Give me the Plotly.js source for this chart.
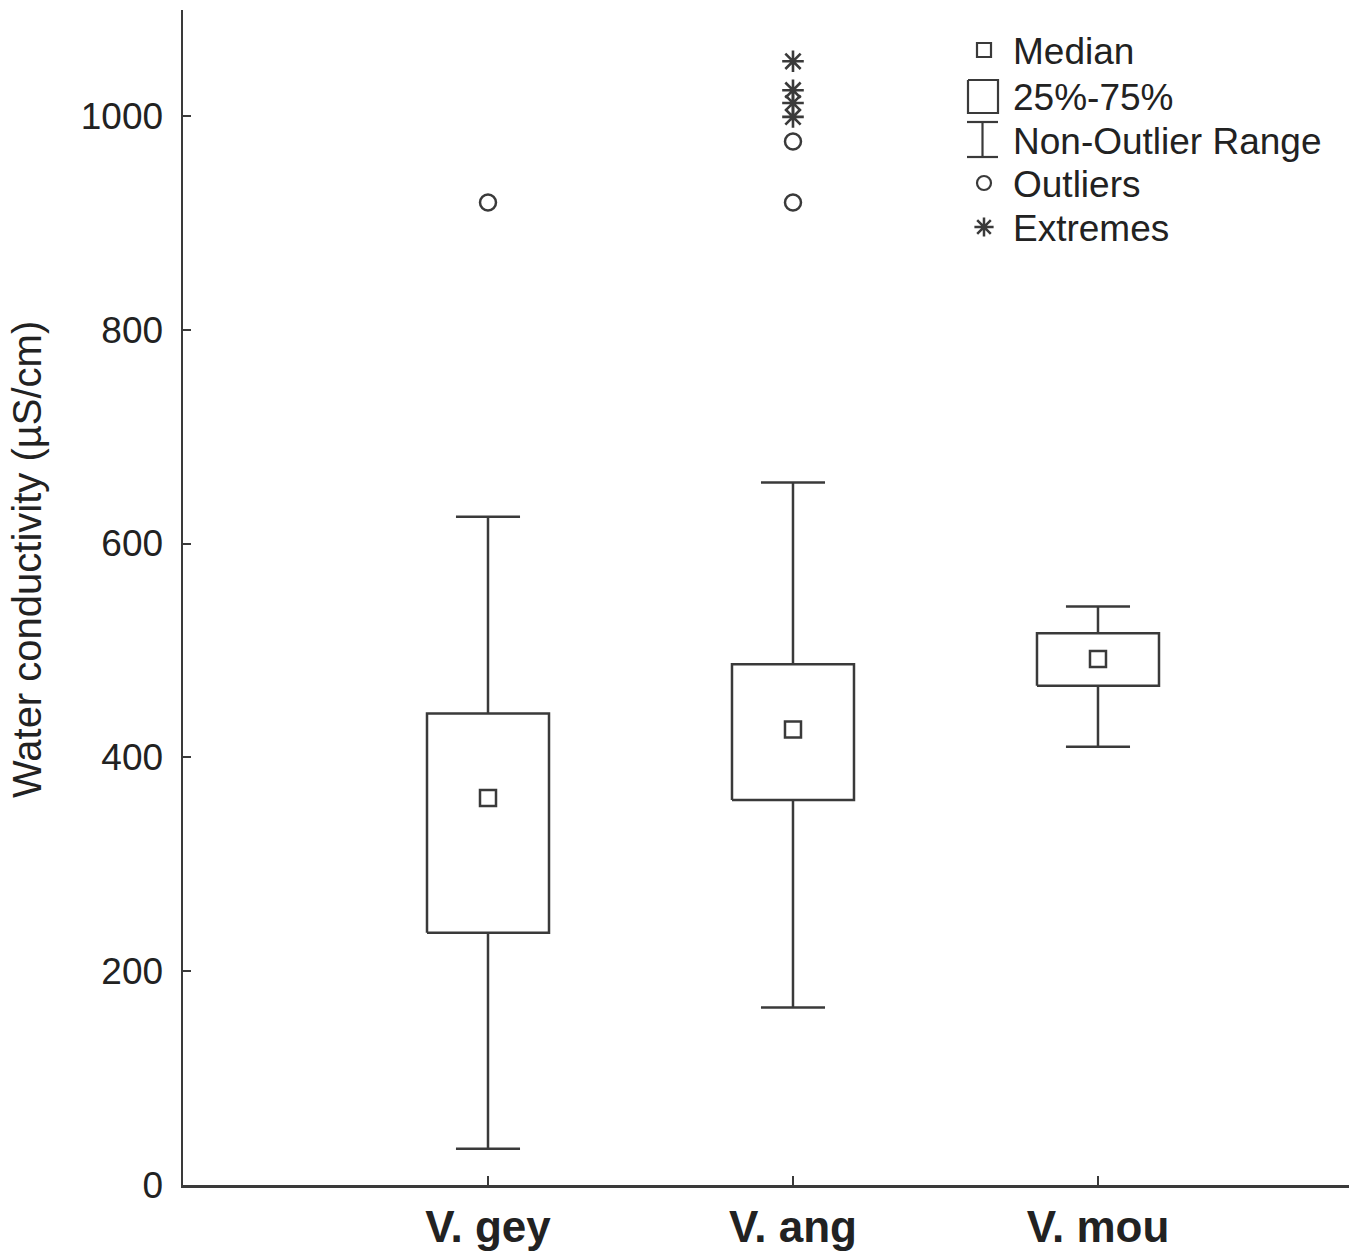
<!DOCTYPE html>
<html>
<head>
<meta charset="utf-8">
<script src="https://cdn.plot.ly/plotly-3.0.1.min.js"></script>
<style>html,body{margin:0;padding:0;background:#fff}#chart{width:1349px;height:1256px}</style>
</head>
<body>
<div id="chart"></div>
<script>
// ---- data ----
const categories = ["V. gey", "V. ang", "V. mou"];
const q1Values = [236, 360, 467];
const medianValues = [362, 426, 492];
const q3Values = [441, 487, 516];
const lowerWhisker = [34, 166, 410];
const upperWhisker = [625, 657, 541];
const outlierCategory = ["V. gey", "V. ang", "V. ang"];
const outlierValues = [919, 919, 976];
const extremeCategory = ["V. ang", "V. ang", "V. ang", "V. ang"];
const extremeValues = [999, 1012, 1024, 1051];
const yTickValues = [0, 200, 400, 600, 800, 1000];
const legendLabels = ["Median", "25%-75%", "Non-Outlier Range", "Outliers", "Extremes"];
const yTitle = "Water conductivity (µS/cm)";

// ---- styles ----
const LC = "#3a3a3a";
const LW = 2.5;
const FONT = "Liberation Sans, Arial, sans-serif";
const boxHalf = 0.2, capHalf = 0.105;

const pos = c => categories.indexOf(c) + 1;

// box rectangles
const bx = [], by = [];
categories.forEach((c, i) => {
  const x = i + 1;
  bx.push(x - boxHalf, x + boxHalf, x + boxHalf, x - boxHalf, x - boxHalf, null);
  by.push(q1Values[i], q1Values[i], q3Values[i], q3Values[i], q1Values[i], null);
});
// whiskers + caps
const wx = [], wy = [];
categories.forEach((c, i) => {
  const x = i + 1;
  wx.push(x, x, null, x, x, null);
  wy.push(q3Values[i], upperWhisker[i], null, q1Values[i], lowerWhisker[i], null);
  wx.push(x - capHalf, x + capHalf, null, x - capHalf, x + capHalf, null);
  wy.push(upperWhisker[i], upperWhisker[i], null, lowerWhisker[i], lowerWhisker[i], null);
});

const traces = [
  {type: "scatter", mode: "lines", x: wx, y: wy, line: {color: LC, width: LW}, hoverinfo: "skip", showlegend: false},
  {type: "scatter", mode: "lines", x: bx, y: by, line: {color: LC, width: LW}, fill: "none", hoverinfo: "skip", showlegend: false},
  {type: "scatter", mode: "markers", x: categories.map((c, i) => i + 1), y: medianValues,
   marker: {symbol: "square-open", size: 16, color: LC, line: {width: LW, color: LC}}, showlegend: false},
  {type: "scatter", mode: "markers", x: outlierCategory.map(pos), y: outlierValues,
   marker: {symbol: "circle-open", size: 16, color: LC, line: {width: LW, color: LC}}, showlegend: false},
  {type: "scatter", mode: "markers", x: extremeCategory.map(pos), y: extremeValues,
   marker: {symbol: "asterisk-open", size: 18, color: LC, line: {width: 2.6, color: LC}}, showlegend: false},
];

// ---- manual legend on a pixel-space overlay axis ----
const legX = 983, legTextX = 1011;
const legY = [50, 96, 140, 183, 227];
traces.push({type: "scatter", mode: "markers", xaxis: "x2", yaxis: "y2", x: [legX + 1], y: [legY[0]],
  marker: {symbol: "square-open", size: 14, color: LC, line: {width: 2.2, color: LC}}, hoverinfo: "skip", showlegend: false});
traces.push({type: "scatter", mode: "lines", xaxis: "x2", yaxis: "y2",
  x: [968, 998, 998, 968, 968], y: [80, 80, 113, 113, 80],
  line: {color: LC, width: 2.2}, hoverinfo: "skip", showlegend: false});
traces.push({type: "scatter", mode: "lines", xaxis: "x2", yaxis: "y2",
  x: [967, 998, null, 982.5, 982.5, null, 967, 998], y: [122, 122, null, 122, 157, null, 157, 157],
  line: {color: LC, width: 2.2}, hoverinfo: "skip", showlegend: false});
traces.push({type: "scatter", mode: "markers", xaxis: "x2", yaxis: "y2", x: [legX + 1], y: [legY[3]],
  marker: {symbol: "circle-open", size: 14, color: LC, line: {width: 2.2, color: LC}}, hoverinfo: "skip", showlegend: false});
traces.push({type: "scatter", mode: "markers", xaxis: "x2", yaxis: "y2", x: [legX + 1], y: [legY[4]],
  marker: {symbol: "asterisk-open", size: 16, color: LC, line: {width: 2.5, color: LC}}, hoverinfo: "skip", showlegend: false});

const annotations = legendLabels.map((t, i) => ({
  xref: "x2", yref: "y2", x: legTextX, y: legY[i] + 1, text: t, showarrow: false,
  xanchor: "left", yanchor: "middle", font: {family: FONT, size: 37, color: "#222"}
}));
// y-axis title as rotated annotation (paper coords, placed as in the reference)
annotations.push({
  xref: "paper", yref: "paper", x: (27 - 183) / 1166, y: (1185 - 560) / 1175, text: yTitle,
  showarrow: false, textangle: -90,
  xanchor: "center", yanchor: "middle", font: {family: FONT, size: 40, color: "#222"}
});

const layout = {
  width: 1349, height: 1256,
  margin: {l: 183, r: 0, t: 10, b: 71, pad: 0},
  paper_bgcolor: "#fff", plot_bgcolor: "#fff",
  showlegend: false,
  font: {family: FONT, color: "#222"},
  xaxis: {
    range: [0, 3.823], tickvals: [1, 2, 3], ticktext: categories,
    showgrid: false, zeroline: false, showline: true, linecolor: LC, linewidth: 2.5,
    ticks: "inside", ticklen: 9, tickwidth: 2, tickcolor: LC,
    tickfont: {family: FONT, size: 44, color: "#222", weight: "bold"},
    ticklabelstandoff: 2, fixedrange: true
  },
  yaxis: {
    range: [0, 1099], tickvals: yTickValues,
    showgrid: false, zeroline: false, showline: true, linecolor: LC, linewidth: 2.5,
    ticks: "inside", ticklen: 8, tickwidth: 2, tickcolor: LC,
    tickfont: {family: FONT, size: 37, color: "#222"},
    ticklabelstandoff: 10,
    fixedrange: true
  },
  xaxis2: {overlaying: "x", range: [183, 1349], visible: false, fixedrange: true},
  yaxis2: {overlaying: "y", range: [1185, 10], visible: false, fixedrange: true},
  annotations: annotations
};

Plotly.newPlot("chart", traces, layout, {staticPlot: true, displayModeBar: false});
</script>
</body>
</html>
